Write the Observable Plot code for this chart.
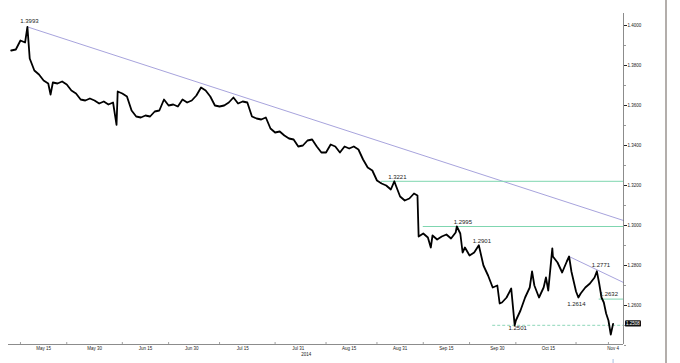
<!DOCTYPE html>
<html>
<head>
<meta charset="utf-8">
<script src="https://cdn.jsdelivr.net/npm/d3@7"></script>
<script src="https://cdn.jsdelivr.net/npm/@observablehq/plot@0.6"></script>
<style>
  html, body { margin: 0; padding: 0; background: #fff; }
  #wrap { position: relative; width: 680px; height: 363px; overflow: hidden; }
  #edge { position: absolute; left: 665px; top: 0; width: 2px; height: 363px; background: #b3aeab; }
</style>
</head>
<body>
<div id="wrap"><div id="edge"></div></div>
<script>
// ---- data ----
const dates = [
"2014-05-06","2014-05-07","2014-05-08","2014-05-09","2014-05-09 12","2014-05-12","2014-05-13","2014-05-14",
"2014-05-15","2014-05-16","2014-05-16 12","2014-05-19","2014-05-20","2014-05-21","2014-05-22","2014-05-23",
"2014-05-26","2014-05-27","2014-05-28","2014-05-29","2014-05-30","2014-06-02","2014-06-03","2014-06-04",
"2014-06-05","2014-06-05 18","2014-06-06","2014-06-09","2014-06-10","2014-06-11","2014-06-12","2014-06-13",
"2014-06-16","2014-06-17","2014-06-18","2014-06-19","2014-06-20","2014-06-23","2014-06-24","2014-06-25",
"2014-06-26","2014-06-27","2014-06-30","2014-07-01","2014-07-02","2014-07-03","2014-07-04","2014-07-07",
"2014-07-08","2014-07-09","2014-07-10","2014-07-11","2014-07-14","2014-07-15","2014-07-16","2014-07-17",
"2014-07-18","2014-07-21","2014-07-22","2014-07-23","2014-07-24","2014-07-25","2014-07-28","2014-07-29",
"2014-07-30","2014-07-31","2014-08-01","2014-08-04","2014-08-05","2014-08-06","2014-08-07","2014-08-08",
"2014-08-11","2014-08-12","2014-08-13","2014-08-14","2014-08-15","2014-08-18","2014-08-19","2014-08-20",
"2014-08-21","2014-08-22","2014-08-25","2014-08-26","2014-08-27","2014-08-28","2014-08-28 18","2014-08-29",
"2014-09-01","2014-09-02","2014-09-03","2014-09-04","2014-09-04 18","2014-09-05","2014-09-08","2014-09-09",
"2014-09-09 15","2014-09-10","2014-09-11","2014-09-12","2014-09-15","2014-09-16","2014-09-17","2014-09-17 06",
"2014-09-18","2014-09-18 12","2014-09-19","2014-09-22","2014-09-23","2014-09-24","2014-09-25","2014-09-26",
"2014-09-29","2014-09-30","2014-09-30 12","2014-10-01","2014-10-02","2014-10-03","2014-10-03 18","2014-10-06",
"2014-10-07","2014-10-08","2014-10-09","2014-10-09 12","2014-10-10","2014-10-13","2014-10-14","2014-10-14 12",
"2014-10-15","2014-10-15 21","2014-10-16","2014-10-17","2014-10-20","2014-10-21","2014-10-21 12","2014-10-22",
"2014-10-23","2014-10-23 12","2014-10-24","2014-10-27","2014-10-28","2014-10-29","2014-10-29 12","2014-10-30",
"2014-10-30 12","2014-10-31","2014-10-31 12","2014-11-03","2014-11-03 12","2014-11-04"
];
const prices = [
1.3875,1.3880,1.3925,1.3915,1.3993,1.3835,1.3775,1.3755,
1.3725,1.3710,1.3655,1.3715,1.3710,1.3720,1.3705,1.3675,
1.3660,1.3630,1.3625,1.3635,1.3625,1.3610,1.3620,1.3605,
1.3615,1.3503,1.3670,1.3660,1.3645,1.3575,1.3545,1.3540,
1.3550,1.3545,1.3570,1.3575,1.3630,1.3600,1.3605,1.3595,
1.3630,1.3615,1.3625,1.3650,1.3690,1.3675,1.3645,1.3600,
1.3595,1.3600,1.3615,1.3640,1.3610,1.3620,1.3615,1.3545,
1.3535,1.3530,1.3540,1.3485,1.3465,1.3470,1.3450,1.3435,
1.3430,1.3395,1.3400,1.3425,1.3430,1.3395,1.3365,1.3365,
1.3405,1.3395,1.3365,1.3395,1.3385,1.3395,1.3380,1.3330,
1.3290,1.3275,1.3225,1.3210,1.3200,1.3180,1.3221,1.3205,
1.3145,1.3125,1.3135,1.3160,1.3150,1.2945,1.2960,1.2940,
1.2890,1.2950,1.2930,1.2945,1.2955,1.2935,1.2965,1.2995,
1.2960,1.2865,1.2890,1.2850,1.2865,1.2901,1.2800,1.2750,
1.2690,1.2700,1.2610,1.2615,1.2640,1.2685,1.2501,1.2525,
1.2575,1.2640,1.2690,1.2770,1.2700,1.2640,1.2690,1.2740,
1.2675,1.2886,1.2845,1.2815,1.2765,1.2820,1.2845,1.2770,
1.2670,1.2640,1.2660,1.2690,1.2710,1.2740,1.2771,1.2710,
1.2640,1.2615,1.2560,1.2525,1.2455,1.2508
];

const tickDates  = ["2014-05-15","2014-05-30","2014-06-15","2014-06-30","2014-07-15","2014-07-31","2014-08-15","2014-08-31","2014-09-15","2014-09-30","2014-10-15","2014-11-04"];
const tickLabels = ["May 15","May 30","Jun 15","Jun 30","Jul 15","Jul 31","Aug 15","Aug 31","Sep 15","Sep 30","Oct 15","Nov 4"];
const minorTickDates = ["2014-05-08","2014-05-22","2014-06-09","2014-06-23","2014-07-08","2014-07-24","2014-08-08","2014-08-25","2014-09-08","2014-09-22","2014-10-06","2014-10-23","2014-11-03"];
const yearLabel = "2014";
const yearLabelDate = "2014-07-31";

const priceTicks = [1.26, 1.28, 1.30, 1.32, 1.34, 1.36, 1.38, 1.40];
const priceMinorTicks = [1.24, 1.25, 1.27, 1.29, 1.31, 1.33, 1.35, 1.37, 1.39];

const levelValues = [1.3221, 1.2995, 1.2632];
const levelStarts = ["2014-08-26", "2014-09-08", "2014-10-30"];
const supportValue = 1.2501;
const supportStart = "2014-09-29";

const trend1Dates = ["2014-05-09 12", "2014-11-06 06"];
const trend1Values = [1.3993, 1.3025];
const trend2Dates = ["2014-10-21 12", "2014-11-06 06"];
const trend2Values = [1.2845, 1.2715];

const noteLabels = ["1.3993","1.3221","1.2995","1.2901","1.2501","1.2614","1.2771","1.2632"];
const noteDates  = ["2014-05-09 12","2014-08-28 18","2014-09-17 06","2014-09-24","2014-10-03 18","2014-10-23 12","2014-10-29 12","2014-10-31"];
const noteValues = [1.3993, 1.3221, 1.2995, 1.2901, 1.2501, 1.2614, 1.2771, 1.2632];

const xStartDate = "2014-05-05 10";
const xEndDate = "2014-11-06 06";
const yDomain = [1.2405, 1.406];

// ---- trading-day position (weekends removed) ----
const REF = Date.UTC(2014, 4, 15), DAY = 864e5;
function tIndex(s) {
  const [ds, hs] = s.split(" ");
  const day = Date.parse(ds + "T00:00:00Z");
  let n = 0;
  if (day >= REF) {
    for (let t = REF; t < day; t += DAY) { const w = new Date(t).getUTCDay(); if (w !== 0 && w !== 6) n++; }
  } else {
    for (let t = day; t < REF; t += DAY) { const w = new Date(t).getUTCDay(); if (w !== 0 && w !== 6) n--; }
  }
  return n + (hs ? +hs / 24 : 0);
}

const series = dates.map((d, i) => ({t: tIndex(d), v: prices[i]}));
const x0 = tIndex(xStartDate), x1 = tIndex(xEndDate);
const tickIdx = tickDates.map(tIndex);
const minorIdx = minorTickDates.map(tIndex);
const levels = levelValues.map((v, i) => ({v, t: tIndex(levelStarts[i])}));
const trend1 = trend1Dates.map((d, i) => ({t: tIndex(d), v: trend1Values[i]}));
const trend2 = trend2Dates.map((d, i) => ({t: tIndex(d), v: trend2Values[i]}));
const notes = noteLabels.map((s, i) => ({s, t: tIndex(noteDates[i]), v: noteValues[i]}));
const last = series[series.length - 1];

const font = "Liberation Sans, Arial, sans-serif";
const noteStyle = {fontSize: 6, fill: "#222", fontFamily: font};
const offsets = [[2,-6],[3,-4],[6,-4],[3,-4],[3,3],[-2,1.5],[4,-6],[5,-5.5]];

const plot = Plot.plot({
  width: 680, height: 363,
  marginLeft: 8, marginRight: 57, marginTop: 13, marginBottom: 19,
  x: {type: "linear", domain: [x0, x1], axis: null, label: null},
  y: {domain: yDomain, axis: null, label: null},
  style: {background: "transparent", fontFamily: font},
  marks: [
    // trend lines
    Plot.line(trend1, {x: "t", y: "v", stroke: "#9d99d8", strokeWidth: 0.9}),
    Plot.line(trend2, {x: "t", y: "v", stroke: "#9d99d8", strokeWidth: 0.9}),
    // horizontal levels
    Plot.ruleY(levels, {y: "v", x1: "t", x2: () => x1, stroke: "#7fd6b0", strokeWidth: 1}),
    Plot.ruleY([supportValue], {x1: () => tIndex(supportStart), x2: () => x1, stroke: "#8ed6b9", strokeWidth: 1, strokeDasharray: "3,2"}),
    // price
    Plot.line(series, {x: "t", y: "v", stroke: "#000", strokeWidth: 1.8, strokeLinejoin: "round", strokeLinecap: "round"}),
    // annotations
    ...notes.map((n, i) => Plot.text([n], {x: "t", y: "v", text: "s", dx: offsets[i][0], dy: offsets[i][1], ...noteStyle})),
    // axes lines
    Plot.ruleY([yDomain[0]], {stroke: "#6e6e6e", strokeWidth: 0.8}),
    Plot.ruleX([x1], {stroke: "#6e6e6e", strokeWidth: 0.8}),
    // right axis
    Plot.axisY({anchor: "right", label: null, ticks: priceTicks, tickSize: 3, tickPadding: 1, tickFormat: d3.format(".4f"), fontSize: 4.5, stroke: "#222", fill: "#222"}),
    Plot.axisY({anchor: "right", label: null, ticks: priceMinorTicks, tickSize: 2, tickFormat: () => "", stroke: "#999"}),
    // bottom axis
    Plot.axisX({anchor: "bottom", label: null, ticks: tickIdx, tickSize: 0, tickPadding: 2, tickFormat: d => tickLabels[tickIdx.indexOf(d)], fontSize: 4.5, fill: "#222"}),
    Plot.ruleX(minorIdx, {y1: yDomain[0], y2: yDomain[0] + 0.001, stroke: "#888", strokeWidth: 0.8}),
    Plot.axisX({anchor: "bottom", label: null, ticks: [tIndex(yearLabelDate)], tickSize: 0, tickPadding: 8, dx: 8, tickFormat: () => yearLabel, fontSize: 4.5, fill: "#222"}),
    Plot.ruleX([last.t], {y1: yDomain[0] - 0.0075, y2: yDomain[0] - 0.0095, stroke: "#a7bde0", strokeWidth: 1}),
    // current price box
    (index, scales, values, dimensions) => {
      const g = d3.create("svg:g");
      const xx = dimensions.width - dimensions.marginRight + 2;
      const yy = scales.y(last.v);
      g.append("rect").attr("x", xx).attr("y", yy - 3.2).attr("width", 16).attr("height", 6.4)
        .attr("rx", 1.2).attr("fill", "#111");
      g.append("text").attr("x", xx + 8).attr("y", yy).attr("dy", "0.35em")
        .attr("text-anchor", "middle").attr("fill", "#fff").attr("font-size", 4.5)
        .attr("font-family", font).text(d3.format(".4f")(last.v));
      return g.node();
    }
  ]
});
document.getElementById("wrap").prepend(plot);
</script>
</body>
</html>
